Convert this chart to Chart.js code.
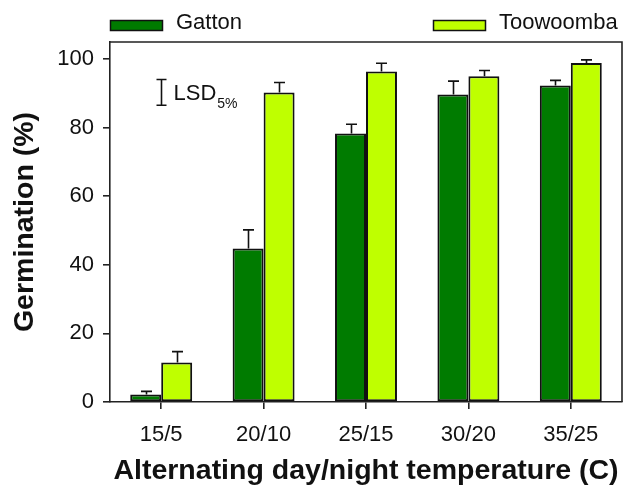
<!DOCTYPE html>
<html>
<head>
<meta charset="utf-8">
<script src="https://cdn.jsdelivr.net/npm/chart.js@4.4.1/dist/chart.umd.min.js"></script>
<style>
  html, body { margin: 0; padding: 0; background: #ffffff; }
  #c { display: block; }
</style>
</head>
<body>
<canvas id="c" width="627" height="488"></canvas>
<script>
// Germination under alternating day/night temperatures, two seed sources
const categories = ['15/5', '20/10', '25/15', '30/20', '35/25'];
const seriesNames = ['Gatton', 'Toowoomba'];
const gattonValues = [2.2, 44.8, 78.3, 89.7, 92.3];
const gattonErrors = [0.9, 5.4, 2.7, 3.9, 1.5];
const toowoombaValues = [11.5, 90.3, 96.4, 95.0, 98.9];
const toowoombaErrors = [3.2, 2.9, 2.4, 1.7, 0.9];
const yTickValues = [0, 20, 40, 60, 80, 100];
const lsdValue = 7.5;      // LSD (5%) bar length
const lsdCentre = 90.3;    // value where the LSD bar is centred
const lsdCategory = 0;     // category under which the LSD bar sits

const FONT = "'Liberation Sans', Arial, Helvetica, sans-serif";
const INK = '#111111';

// Error bars (upper half only) drawn on top of each bar
const errorBarPlugin = {
  id: 'errorBars',
  afterDatasetsDraw(chart) {
    const ctx = chart.ctx;
    const y = chart.scales.y;
    ctx.save();
    ctx.strokeStyle = INK;
    ctx.lineWidth = 1.6;
    chart.data.datasets.forEach((ds, i) => {
      const meta = chart.getDatasetMeta(i);
      meta.data.forEach((bar, j) => {
        const top = y.getPixelForValue(ds.data[j] + ds.errors[j]);
        const x = Math.round(bar.x) + 0.5;
        ctx.beginPath();
        ctx.moveTo(x, bar.y);
        ctx.lineTo(x, top);
        ctx.moveTo(x - 5.5, top);
        ctx.lineTo(x + 5.5, top);
        ctx.stroke();
      });
    });
    ctx.restore();
  }
};

// LSD marker with its label
const lsdPlugin = {
  id: 'lsdMarker',
  afterDatasetsDraw(chart) {
    const ctx = chart.ctx;
    const xs = chart.scales.x, ys = chart.scales.y;
    const x = Math.round(xs.getPixelForValue(lsdCategory)) + 0.5;
    const y1 = ys.getPixelForValue(lsdCentre + lsdValue / 2);
    const y2 = ys.getPixelForValue(lsdCentre - lsdValue / 2);
    ctx.save();
    ctx.strokeStyle = INK;
    ctx.lineWidth = 1.6;
    ctx.beginPath();
    ctx.moveTo(x, y1); ctx.lineTo(x, y2);
    ctx.moveTo(x - 5, y1); ctx.lineTo(x + 5, y1);
    ctx.moveTo(x - 5, y2); ctx.lineTo(x + 5, y2);
    ctx.stroke();
    ctx.fillStyle = INK;
    ctx.textBaseline = 'alphabetic';
    ctx.textAlign = 'left';
    ctx.font = '22px ' + FONT;
    const base = (y1 + y2) / 2 + 8;
    ctx.fillText('LSD', x + 12, base);
    const w = ctx.measureText('LSD').width;
    ctx.font = '14px ' + FONT;
    ctx.fillText('5%', x + 13 + w, base + 7.5);
    ctx.restore();
  }
};

// Top and right edges of the plot frame
const framePlugin = {
  id: 'frame',
  afterDraw(chart) {
    const { left, right, top, bottom } = chart.chartArea;
    const ctx = chart.ctx;
    ctx.save();
    ctx.strokeStyle = '#222222';
    ctx.lineWidth = 1.6;
    ctx.beginPath();
    ctx.moveTo(left, top);
    ctx.lineTo(right, top);
    ctx.lineTo(right, bottom);
    ctx.stroke();
    ctx.restore();
  }
};

// Legend laid out across the top of the plot
const legendPlugin = {
  id: 'topLegend',
  afterDraw(chart) {
    const ctx = chart.ctx;
    const slots = [110, 433];
    ctx.save();
    ctx.font = '22px ' + FONT;
    ctx.textBaseline = 'middle';
    ctx.textAlign = 'left';
    chart.data.datasets.forEach((ds, i) => {
      const x = slots[i];
      ctx.fillStyle = ds.backgroundColor;
      ctx.fillRect(x, 20, 52, 10);
      ctx.strokeStyle = INK;
      ctx.lineWidth = 1.5;
      ctx.strokeRect(x + 0.5, 20.5, 52, 10);
      ctx.fillStyle = INK;
      ctx.fillText(ds.label, x + 66, 23);
    });
    ctx.restore();
  }
};

new Chart(document.getElementById('c'), {
  type: 'bar',
  data: {
    labels: categories,
    datasets: [
      {
        label: seriesNames[0],
        data: gattonValues,
        errors: gattonErrors,
        backgroundColor: '#007b00',
        borderColor: INK,
        borderWidth: 2,
        borderSkipped: false
      },
      {
        label: seriesNames[1],
        data: toowoombaValues,
        errors: toowoombaErrors,
        backgroundColor: '#bfff00',
        borderColor: INK,
        borderWidth: 2,
        borderSkipped: false
      }
    ]
  },
  options: {
    responsive: false,
    devicePixelRatio: 1,
    animation: false,
    categoryPercentage: 0.605,
    barPercentage: 1.0,
    layout: { padding: { top: 42, right: 5, left: 0, bottom: 0 } },
    plugins: {
      legend: { display: false },
      tooltip: { enabled: false }
    },
    scales: {
      x: {
        type: 'category',
        offset: true,
        grid: {
          offset: false,
          drawOnChartArea: false,
          drawTicks: true,
          tickLength: 7,
          color: '#222222',
          lineWidth: 1.6
        },
        border: { display: true, color: '#222222', width: 1.6 },
        ticks: { font: { family: FONT, size: 22 }, color: INK, padding: 13, maxRotation: 0 },
        title: {
          display: true,
          text: 'Alternating day/night temperature (C)',
          font: { family: FONT, size: 28.5, weight: 'bold' },
          color: INK,
          padding: { top: 0, bottom: 0 }
        },
        afterFit(scale) { scale.height = 86; }
      },
      y: {
        type: 'linear',
        min: 0,
        max: 105,
        grid: {
          drawOnChartArea: false,
          drawTicks: true,
          tickLength: 7,
          color: '#222222',
          lineWidth: 1.6
        },
        border: { display: true, color: '#222222', width: 1.6 },
        ticks: { font: { family: FONT, size: 22 }, color: INK, padding: 9 },
        afterBuildTicks(scale) { scale.ticks = yTickValues.map(v => ({ value: v })); },
        title: {
          display: true,
          text: 'Germination (%)',
          font: { family: FONT, size: 28.5, weight: 'bold' },
          color: INK,
          padding: { top: 8, bottom: 0 }
        },
        afterFit(scale) { scale.width = 110; }
      }
    }
  },
  plugins: [errorBarPlugin, lsdPlugin, framePlugin, legendPlugin]
});
</script>
</body>
</html>
